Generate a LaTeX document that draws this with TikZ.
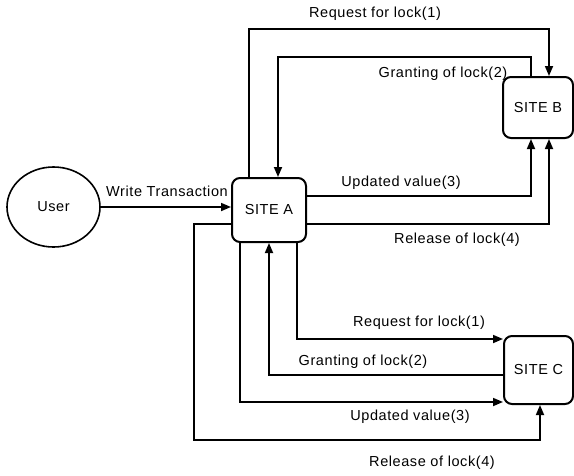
\documentclass[tikz,border=0pt]{standalone}
\usepackage{fontspec}
\setmainfont{Liberation Sans}
\newfontfamily\lblfont[LetterSpace=4]{Liberation Sans}
\usetikzlibrary{arrows.meta,shapes.geometric}
\begin{document}
\begin{tikzpicture}[x=1pt,y=-1pt,
  txt/.style={font=\lblfont\fontsize{14.5}{16}\selectfont,inner sep=0pt},
  site/.style={txt,draw,line width=2pt,rounded corners=8pt,inner sep=0pt},
  arr/.style={line width=1.7pt,-{Triangle[length=10pt,width=8pt]}}]
\useasboundingbox (0,0) rectangle (574,475);
% nodes
\node[txt,draw,ellipse,line width=1.6pt,minimum width=93pt,minimum height=80pt] (user) at (53.5,207) {User};
\node[site,minimum width=74pt,minimum height=64pt] (siteA) at (269,210) {SITE A};
\node[site,minimum width=70pt,minimum height=61pt] (siteB) at (538,107.5) {SITE B};
\node[site,minimum width=69pt,minimum height=68pt] (siteC) at (538.5,370) {SITE C};
% labels
\node[txt] (l1) at (375,14) {Request for lock(1)};
\node[txt] (l2) at (443,74) {Granting of lock(2)};
\node[txt] (l3) at (401,183) {Updated value(3)};
\node[txt] (l4) at (457,240) {Release of lock(4)};
\node[txt] (lw) at (167,191) {Write Transaction};
\node[txt] (l5) at (419,323) {Request for lock(1)};
\node[txt] (l6) at (363,362) {Granting of lock(2)};
\node[txt] (l7) at (410,417) {Updated value(3)};
\node[txt] (l8) at (432,463) {Release of lock(4)};
% turning points
\coordinate (c1) at (400,29);
\coordinate (c2) at (400,57);
\coordinate (c8) at (194,440);
% connectors
\draw[arr] (user.east) -- (siteA.west |- user.east);
\draw[arr] ([xshift=-20pt]siteA.north) |- (c1) -| ([xshift=11pt]siteB.north);
\draw[arr] ([xshift=-7pt]siteB.north) |- (c2) -| ([xshift=9pt]siteA.north);
\draw[arr] ([yshift=14pt]siteA.east) -| ([xshift=-7pt]siteB.south);
\draw[arr] ([yshift=-14pt]siteA.east) -| ([xshift=11pt]siteB.south);
\draw[arr] ([xshift=28pt]siteA.south) |- ([yshift=31pt]siteC.west);
\draw[arr] ([yshift=-5pt]siteC.west) -| (siteA.south);
\draw[arr] ([xshift=-29pt]siteA.south) |- ([yshift=-32pt]siteC.west);
\draw[arr] ([yshift=-14pt]siteA.west) -| (c8) -| ([xshift=1.5pt]siteC.south);
\end{tikzpicture}
\end{document}
